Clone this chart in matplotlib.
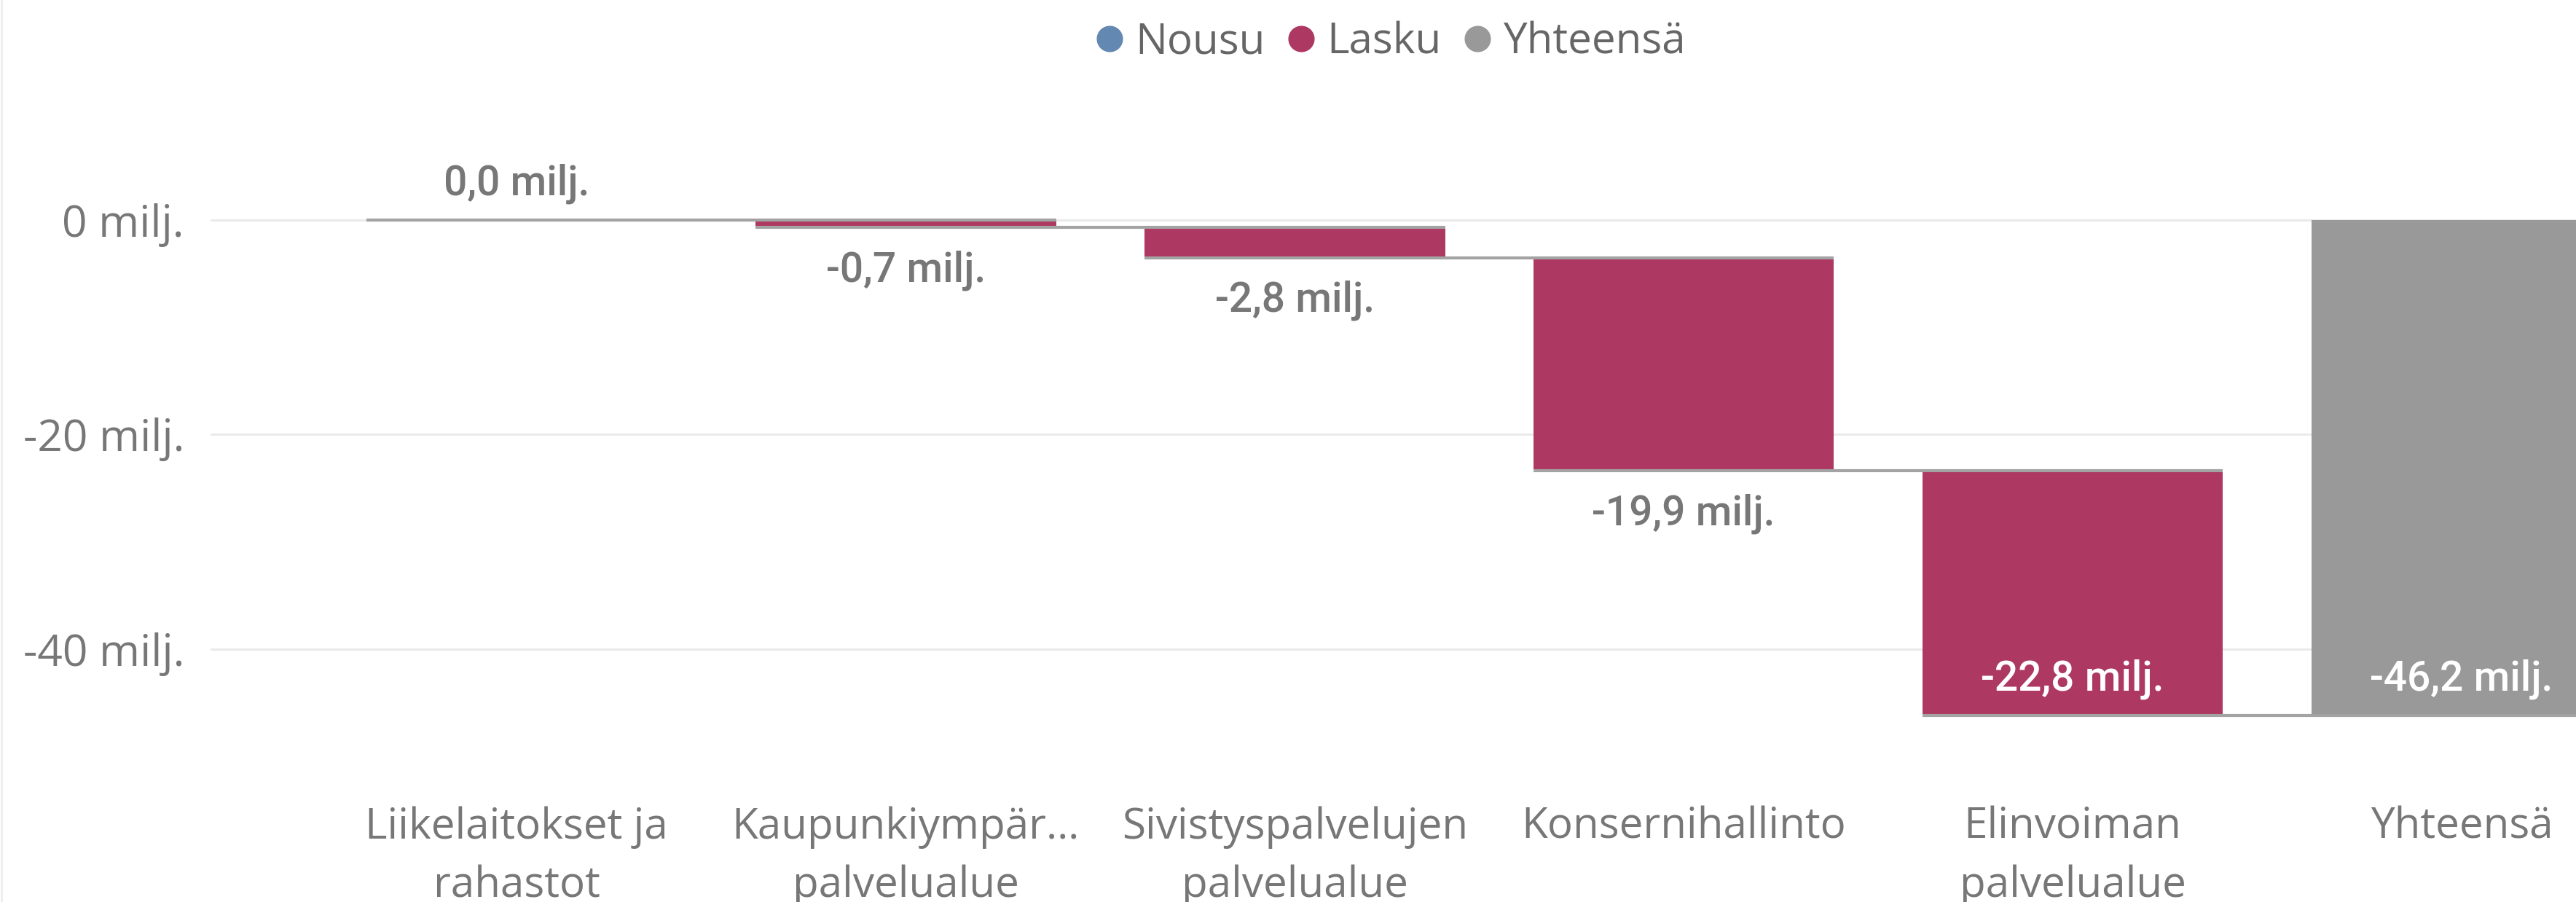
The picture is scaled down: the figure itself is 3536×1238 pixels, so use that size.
"""Waterfall of the budget change by service area (milj. euroa)."""

from __future__ import annotations

import matplotlib

matplotlib.use("Agg")

import matplotlib.pyplot as plt
from matplotlib.lines import Line2D
from matplotlib.ticker import FuncFormatter

CATEGORIES = [
    "Liikelaitokset ja\nrahastot",
    "Kaupunkiympär…\npalvelualue",
    "Sivistyspalvelujen\npalvelualue",
    "Konsernihallinto",
    "Elinvoiman\npalvelualue",
]
CHANGES = [0.0, -0.7, -2.8, -19.9, -22.8]
TOTAL_LABEL = "Yhteensä"
Y_TICKS = [0, -20, -40]
LEGEND_LABELS = ["Nousu", "Lasku", "Yhteensä"]

UP_COLOR = "#6388B1"
DOWN_COLOR = "#AD3862"
TOTAL_COLOR = "#999999"
TEXT_COLOR = "#777777"
GRID_COLOR = "#EAEAEA"
LINK_COLOR = "#A3A3A3"
FONT = ["Open Sans", "DejaVu Sans"]
LABEL_FONT = ["Roboto", "DejaVu Sans"]

W, H, DPI = 3536, 1238, 100
BAR_WIDTH = 0.773


def fmt(value: float) -> str:
    return f"{value:.1f}".replace(".", ",") + " milj."


def main() -> None:
    plt.rcParams["font.family"] = FONT
    fig = plt.figure(figsize=(W / DPI, H / DPI), dpi=DPI)
    ax = fig.add_axes([289 / W, 0.19127, 1 - 289 / W, 0.68369])

    labels = CATEGORIES + [TOTAL_LABEL]
    total = round(sum(CHANGES), 1)
    n = len(labels)

    ax.set_xlim(-0.787, 5.294)
    ax.set_ylim(-47.5, 10)

    # grid
    ax.set_yticks(Y_TICKS)
    ax.yaxis.set_major_formatter(FuncFormatter(lambda v, _: f"{v:.0f} milj."))
    ax.grid(axis="y", color=GRID_COLOR, linewidth=2.2)
    ax.set_axisbelow(True)
    ax.tick_params(axis="y", length=0, pad=26, labelsize=43.5, labelcolor=TEXT_COLOR)
    ax.tick_params(axis="x", length=0, labelbottom=False)
    for spine in ax.spines.values():
        spine.set_visible(False)

    # bars
    starts, ends, colors = [], [], []
    level = 0.0
    for change in CHANGES:
        starts.append(level)
        level = round(level + change, 1)
        ends.append(level)
        colors.append(UP_COLOR if change > 0 else DOWN_COLOR)
    starts.append(0.0)
    ends.append(total)
    colors.append(TOTAL_COLOR)

    xs = list(range(n))
    heights = [e - s for s, e in zip(starts, ends)]
    ax.bar(xs, heights, bottom=starts, width=BAR_WIDTH, color=colors, zorder=2)

    # connectors: from this bar's left edge to the next bar's right edge
    for i in range(n - 1):
        ax.hlines(ends[i], i - BAR_WIDTH / 2, i + 1 + BAR_WIDTH / 2,
                  color=LINK_COLOR, linewidth=3, zorder=3)

    # value labels
    lo = ax.get_ylim()[0]
    for i in range(n):
        value = heights[i]
        top, bottom = max(starts[i], ends[i]), min(starts[i], ends[i])
        if value >= 0:
            y, off, color = top, 50, TEXT_COLOR
        elif bottom - 6 < lo:
            y, off, color = bottom, 50, "white"
        else:
            y, off, color = bottom, -59, TEXT_COLOR
        ax.annotate(fmt(value), (i, y), xytext=(0, off), textcoords="offset pixels",
                    ha="center", va="center", fontsize=41, color=color, zorder=4,
                    family=LABEL_FONT, fontweight="medium")

    # category labels
    for i, label in enumerate(labels):
        ax.annotate(label, (i, 0), xycoords=("data", "axes fraction"),
                    xytext=(0, -105), textcoords="offset pixels",
                    ha="center", va="top", fontsize=42, color=TEXT_COLOR,
                    linespacing=1.5, annotation_clip=False)

    # legend
    handles = [
        Line2D([], [], marker="o", linestyle="none", markersize=25, color=c)
        for c in (UP_COLOR, DOWN_COLOR, TOTAL_COLOR)
    ]
    leg = fig.legend(handles, LEGEND_LABELS, loc="center", bbox_to_anchor=(1908 / W, 0.9527),
                     ncol=3, frameon=False, fontsize=42, handlelength=0.7,
                     handletextpad=0.25, columnspacing=0.5, borderpad=0)
    for text in leg.get_texts():
        text.set_color("#666666")

    fig.add_artist(Line2D([0.0006, 0.0006], [0, 1], color="#EEEEEE", linewidth=2,
                          transform=fig.transFigure))

    fig.savefig("out.png", dpi=DPI)


if __name__ == "__main__":
    main()
